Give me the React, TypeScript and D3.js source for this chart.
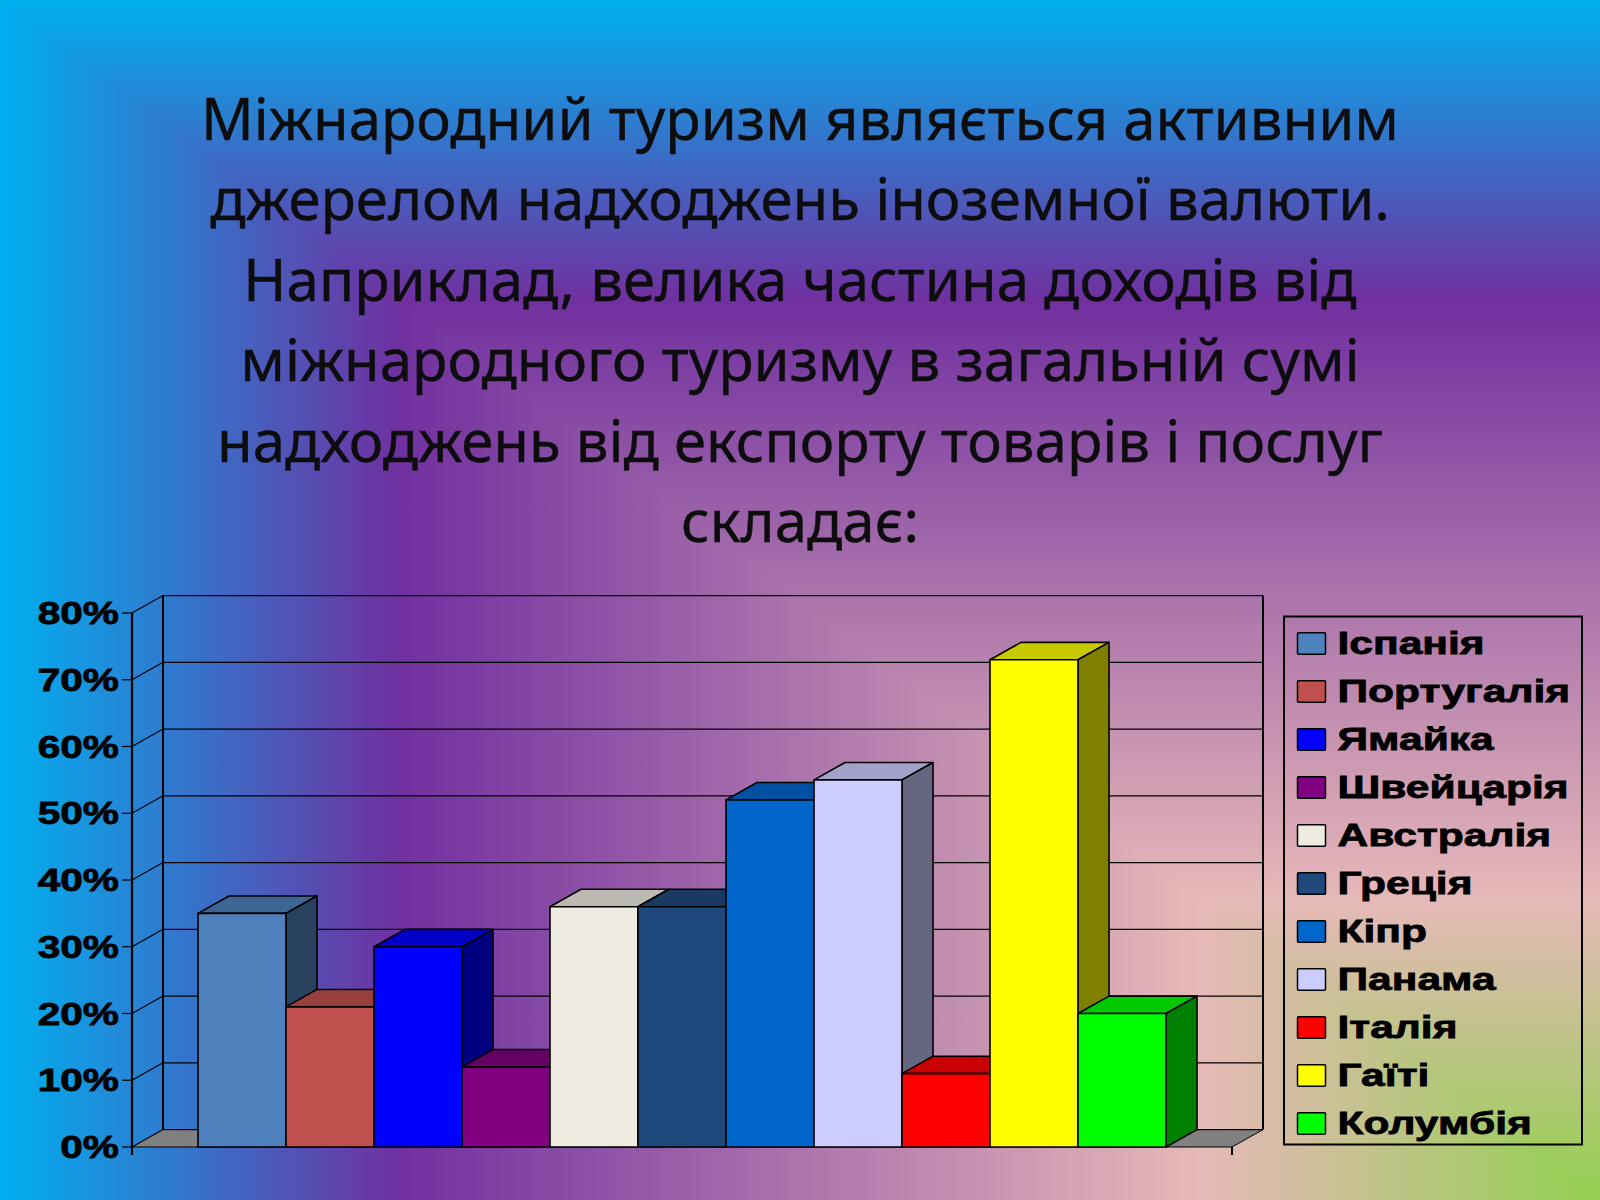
import * as d3 from "d3";
import React from "react";

const titleLines = [
  "Міжнародний туризм являється активним",
  "джерелом надходжень іноземної валюти.",
  "Наприклад, велика частина доходів від",
  "міжнародного туризму в загальній сумі",
  "надходжень від експорту товарів і послуг",
  "складає:",
];

const countries = ["Іспанія", "Португалія", "Ямайка", "Швейцарія", "Австралія", "Греція", "Кіпр", "Панама", "Італія", "Гаїті", "Колумбія"];
const shares = [35, 21, 30, 12, 36, 36, 52, 55, 11, 73, 20];
const colors = ["#4F81BD", "#C0504D", "#0000FF", "#800080", "#EEECE1", "#1F497D", "#0066CC", "#CCCCFF", "#FF0000", "#FFFF00", "#00FF00"];
const yTicks = [0, 10, 20, 30, 40, 50, 60, 70, 80];

// rectangular fill: cyan on the top/left edge, green in the bottom right corner
const bgStops: [number, string][] = [
  [0, "#00B0F0"],
  [0.25, "#7030A0"],
  [0.75, "#E6B9B8"],
  [1, "#92D050"],
];

const width = 1600;
const height = 1200;
const depthX = 31;
const depthY = 17.4;

const shade = (c: string, k: number) => {
  const { r, g, b } = d3.rgb(c);
  return d3.rgb(r * k, g * k, b * k).formatHex();
};

const poly = (pts: [number, number][]) => d3.line()(pts)! + "Z";

export default function App() {
  const x = d3.scaleBand<string>().domain(countries).range([132, 1232]).paddingInner(0).paddingOuter(0.75);
  const y = d3.scaleLinear().domain([0, 80]).range([1147, 613]);
  const legendY = d3.scaleBand<string>().domain(countries).range([619.5, 1147.5]);
  const x0 = x.range()[0];
  const x1 = x.range()[1];
  const y0 = y(0);

  return (
    <svg width={width} height={height} style={{ position: "absolute", left: 0, top: 0 }}>
      <defs>
        <linearGradient id="bgV" gradientUnits="userSpaceOnUse" x1="0" y1="0" x2="0" y2={height}>
          {bgStops.map(([o, c]) => <stop key={o} offset={o} stopColor={c} />)}
        </linearGradient>
        <linearGradient id="bgH" gradientUnits="userSpaceOnUse" x1="0" y1="0" x2={width} y2="0">
          {bgStops.map(([o, c]) => <stop key={o} offset={o} stopColor={c} />)}
        </linearGradient>
      </defs>
      <rect width={width} height={height} fill="url(#bgH)" />
      <path d={poly([[0, 0], [width, 0], [width, height]])} fill="url(#bgV)" />

      <g fontFamily="'Noto Sans'" fontSize={58} fill="#0d0d0d" stroke="#0d0d0d" strokeWidth={0.4} textAnchor="middle">
        {titleLines.map((t, i) => (
          <text key={t} transform={`translate(800,${140 + i * 80.4}) scale(1.003,1)`}>{t}</text>
        ))}
      </g>

      {/* walls and floor */}
      <path d={poly([[x0, y0], [x0 + depthX, y0 - depthY], [x1 + depthX, y0 - depthY], [x1, y0]])} fill="#808080" />
      <g stroke="#000" fill="none">
        {yTicks.map((t) => (
          <g key={t} strokeWidth={1.2}>
            <line x1={x0 - 10} x2={x0} y1={y(t)} y2={y(t)} />
            <line x1={x0} x2={x0 + depthX} y1={y(t)} y2={y(t) - depthY} />
            <line x1={x0 + depthX} x2={x1 + depthX} y1={y(t) - depthY} y2={y(t) - depthY} />
          </g>
        ))}
        <line x1={x0 + depthX} x2={x0 + depthX} y1={y(80) - depthY} y2={y0 - depthY} strokeWidth={2} />
        <line x1={x1 + depthX} x2={x1 + depthX} y1={y(80) - depthY} y2={y0 - depthY} strokeWidth={2} />
        <line x1={x1} x2={x1 + depthX} y1={y0} y2={y0 - depthY} strokeWidth={1} />
        <line x1={x0} x2={x1} y1={y0} y2={y0} strokeWidth={1.2} />
        <line x1={x0} x2={x0} y1={y(80)} y2={y0 + 8} strokeWidth={2.2} />
        <line x1={x1} x2={x1} y1={y0} y2={y0 + 8} strokeWidth={2} />
      </g>

      {/* bars, left to right so each front covers the previous side */}
      <g stroke="#000" strokeWidth={1.6} strokeLinejoin="round">
        {countries.map((c, i) => {
          const l = x(c)!;
          const r = l + x.bandwidth();
          const t = y(shares[i]);
          return (
            <g key={c}>
              <path d={poly([[l, t], [l + depthX, t - depthY], [r + depthX, t - depthY], [r, t]])} fill={shade(colors[i], 0.79)} />
              <path d={poly([[r, t], [r + depthX, t - depthY], [r + depthX, y0 - depthY], [r, y0]])} fill={shade(colors[i], 0.5)} />
              <rect x={l} y={t} width={x.bandwidth()} height={y0 - t} fill={colors[i]} />
            </g>
          );
        })}
      </g>

      <g fontFamily="'Liberation Sans'" fontWeight="bold" fontSize={32} fill="#000" stroke="#000" strokeWidth={0.8}>
        {yTicks.map((t) => (
          <text key={t} textAnchor="end" transform={`translate(119,${y(t) + 11}) scale(1.27,1)`}>{t}%</text>
        ))}
      </g>

      <rect x={1284} y={616.5} width={298} height={528} fill="none" stroke="#000" strokeWidth={2} />
      <g fontFamily="'Liberation Sans'" fontWeight="bold" fontSize={32} fill="#000">
        {countries.map((c, i) => {
          const ly = legendY(c)! + legendY.bandwidth() / 2;
          return (
            <g key={c}>
              <rect x={1297.5} y={ly - 10.7} width={28} height={21.4} rx={1} fill={colors[i]} stroke="#000" strokeWidth={1.5} />
              <text transform={`translate(1337.5,${ly + 10}) scale(1.33,1)`} stroke="#000" strokeWidth={0.8}>{c}</text>
            </g>
          );
        })}
      </g>
    </svg>
  );
}
